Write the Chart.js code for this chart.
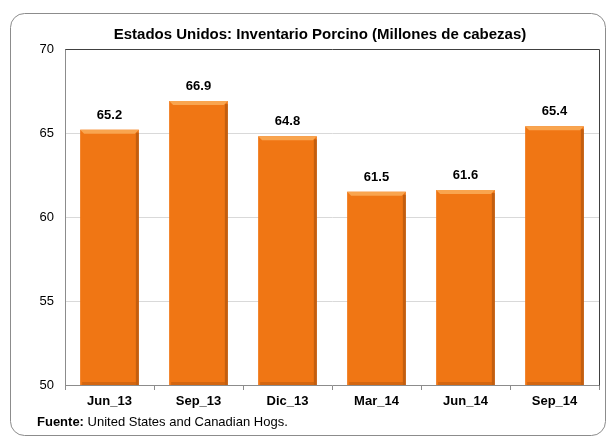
<!DOCTYPE html>
<html>
<head>
<meta charset="utf-8">
<script src="https://cdn.jsdelivr.net/npm/chart.js@4/dist/chart.umd.min.js"></script>
<style>
  html, body { margin: 0; padding: 0; background: #fff; }
  #wrap { width: 608px; height: 440px; position: relative; }
</style>
</head>
<body>
<div id="wrap"><canvas id="hogChart" width="608" height="440"></canvas></div>
<script>
// Chart data
const periods = ['Jun_13', 'Sep_13', 'Dic_13', 'Mar_14', 'Jun_14', 'Sep_14'];
const inventory = [65.2, 66.9, 64.8, 61.5, 61.6, 65.4];
const yTicks = [50, 55, 60, 65, 70];

const chartTitle = 'Estados Unidos: Inventario Porcino (Millones de cabezas)';
const sourceLabel = 'Fuente:';
const sourceText = ' United States and Canadian Hogs.';

const FONT = '"Liberation Sans", Arial, sans-serif';
const BAR_COLOR = '#F07614';

// Draws frame, title, footer, bar bevels and value labels
const decorPlugin = {
    id: 'decor',
    beforeDraw(chart) {
        const ctx = chart.ctx;
        ctx.save();
        ctx.fillStyle = '#fff';
        ctx.fillRect(0, 0, chart.width, chart.height);
        // rounded outer frame
        ctx.strokeStyle = '#8c8c8c';
        ctx.lineWidth = 1;
        ctx.beginPath();
        ctx.roundRect(10.5, 13.5, 595, 422, 14);
        ctx.stroke();
        ctx.restore();
    },
    afterDatasetsDraw(chart) {
        const ctx = chart.ctx;
        const meta = chart.getDatasetMeta(0);
        const bottom = chart.chartArea.bottom;
        ctx.save();
        meta.data.forEach((bar, i) => {
            const p = bar.getProps(['x', 'y', 'base', 'width'], true);
            const base = Math.min(p.base, bottom);
            const l = p.x - p.width / 2, r = p.x + p.width / 2;
            // right shadow
            ctx.fillStyle = 'rgba(150,70,10,0.5)';
            ctx.fillRect(r - 3, p.y + 3, 3, base - p.y - 3);
            // bottom shadow
            ctx.fillStyle = 'rgba(170,80,10,0.4)';
            ctx.fillRect(l + 2, base - 3, p.width - 5, 3);
            // top bevel
            ctx.fillStyle = '#F9A54F';
            ctx.beginPath();
            ctx.moveTo(l, p.y);
            ctx.lineTo(r, p.y);
            ctx.lineTo(r - 4, p.y + 4);
            ctx.lineTo(l + 4, p.y + 4);
            ctx.closePath();
            ctx.fill();
            // value label
            ctx.fillStyle = '#000';
            ctx.font = 'bold 13px ' + FONT;
            ctx.textAlign = 'center';
            ctx.textBaseline = 'alphabetic';
            ctx.fillText(inventory[i].toFixed(1), p.x, p.y - 11);
        });
        ctx.restore();
    },
    afterDraw(chart) {
        const ctx = chart.ctx;
        const area = chart.chartArea;
        ctx.save();
        // top and right plot border
        ctx.strokeStyle = '#404040';
        ctx.lineWidth = 1;
        ctx.beginPath();
        ctx.moveTo(Math.round(area.left) + 0.5, Math.round(area.top) + 0.5);
        ctx.lineTo(Math.round(area.right) + 0.5, Math.round(area.top) + 0.5);
        ctx.lineTo(Math.round(area.right) + 0.5, Math.round(area.bottom) + 0.5);
        ctx.stroke();
        // title
        ctx.fillStyle = '#000';
        ctx.font = 'bold 15px ' + FONT;
        ctx.textAlign = 'center';
        ctx.textBaseline = 'alphabetic';
        ctx.fillText(chartTitle, 320, 39);
        // footer
        ctx.textAlign = 'left';
        ctx.font = 'bold 13px ' + FONT;
        ctx.fillText(sourceLabel, 37, 426);
        const w = ctx.measureText(sourceLabel).width;
        ctx.font = '13px ' + FONT;
        ctx.fillText(sourceText, 37 + w, 426);
        ctx.restore();
    }
};

new Chart(document.getElementById('hogChart'), {
    type: 'bar',
    data: {
        labels: periods,
        datasets: [{
            data: inventory,
            backgroundColor: BAR_COLOR,
            borderWidth: 0,
            categoryPercentage: 0.66,
            barPercentage: 1.0
        }]
    },
    options: {
        responsive: false,
        animation: false,
        layout: { padding: { left: 10, right: 9, top: 49, bottom: 0 } },
        plugins: {
            legend: { display: false },
            title: { display: false },
            tooltip: { enabled: false }
        },
        scales: {
            x: {
                afterFit(scale) { scale.height = 55; },
                grid: {
                    offset: true,
                    drawOnChartArea: false,
                    tickLength: 5,
                    color: '#8c8c8c'
                },
                border: { color: '#8c8c8c' },
                ticks: {
                    color: '#000',
                    padding: 4,
                    font: { family: FONT, size: 13, weight: 'bold' }
                }
            },
            y: {
                min: 50,
                max: 70,
                afterFit(scale) { scale.width = 55; },
                afterBuildTicks(scale) {
                    scale.ticks = yTicks.map(v => ({ value: v }));
                },
                grid: {
                    color: '#d9d9d9',
                    drawTicks: false
                },
                border: { color: '#8c8c8c' },
                ticks: {
                    color: '#000',
                    padding: 11,
                    font: { family: FONT, size: 13 }
                }
            }
        }
    },
    plugins: [decorPlugin]
});
</script>
</body>
</html>
